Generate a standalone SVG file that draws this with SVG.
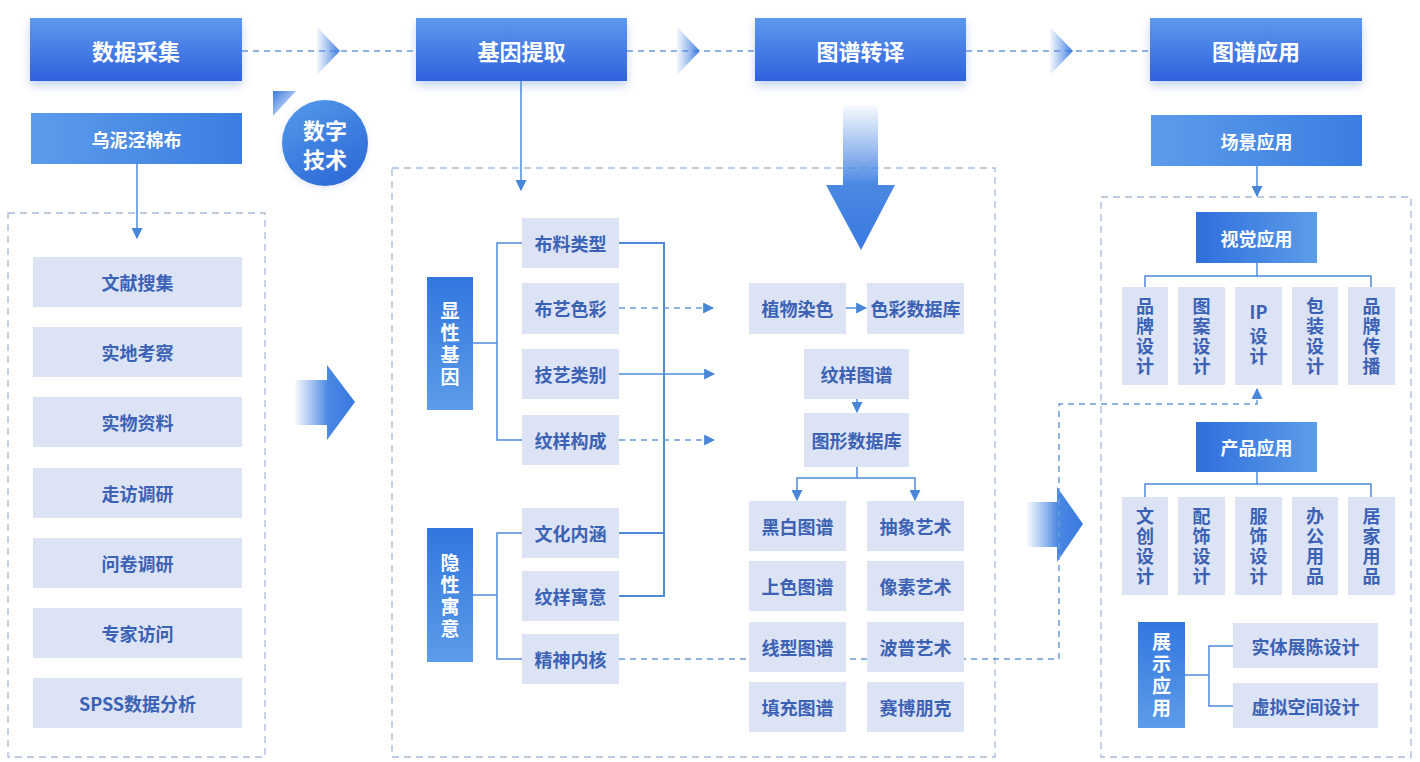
<svg xmlns="http://www.w3.org/2000/svg" width="1420" height="762" viewBox="0 0 1420 762">
<defs>
  <linearGradient id="gHead" x1="0" y1="0" x2="0" y2="1">
    <stop offset="0" stop-color="#5e98ec"/>
    <stop offset="1" stop-color="#2f62df"/>
  </linearGradient>
  <linearGradient id="gSub" x1="0" y1="0" x2="1" y2="0">
    <stop offset="0" stop-color="#5c9beb"/>
    <stop offset="1" stop-color="#3b7ee1"/>
  </linearGradient>
  <linearGradient id="gApp" x1="0" y1="0" x2="1" y2="0">
    <stop offset="0" stop-color="#2f6edc"/>
    <stop offset="1" stop-color="#5c9de9"/>
  </linearGradient>
  <linearGradient id="gVert" x1="0" y1="0" x2="0" y2="1">
    <stop offset="0" stop-color="#3277df"/>
    <stop offset="1" stop-color="#5c9ce9"/>
  </linearGradient>
  <linearGradient id="gTri" x1="0" y1="0" x2="1" y2="0">
    <stop offset="0" stop-color="#5b93e6" stop-opacity="0.08"/>
    <stop offset="1" stop-color="#3a7ae0"/>
  </linearGradient>
  <linearGradient id="gBig" x1="0" y1="0" x2="1" y2="0">
    <stop offset="0" stop-color="#5b93e6" stop-opacity="0.05"/>
    <stop offset="0.55" stop-color="#4a88e3"/>
    <stop offset="1" stop-color="#3a7ae0"/>
  </linearGradient>
  <linearGradient id="gDown" x1="0" y1="0" x2="0" y2="1">
    <stop offset="0" stop-color="#5b93e6" stop-opacity="0.05"/>
    <stop offset="0.55" stop-color="#4a88e3"/>
    <stop offset="1" stop-color="#3a7ae0"/>
  </linearGradient>
  <linearGradient id="gCorner" x1="0" y1="0" x2="1" y2="1">
    <stop offset="0" stop-color="#3a7ae0"/>
    <stop offset="1" stop-color="#5b93e6" stop-opacity="0.1"/>
  </linearGradient>
  <linearGradient id="gCircle" x1="0.2" y1="0" x2="0.8" y2="1">
    <stop offset="0" stop-color="#5197ea"/>
    <stop offset="1" stop-color="#2c68d6"/>
  </linearGradient>
  <filter id="shadow" x="-20%" y="-30%" width="140%" height="180%">
    <feDropShadow dx="0" dy="5" stdDeviation="5" flood-color="#5f86d6" flood-opacity="0.35"/>
  </filter>
  <filter id="soft" x="-20%" y="-20%" width="140%" height="140%">
    <feDropShadow dx="0" dy="2" stdDeviation="3" flood-color="#7f9fd8" flood-opacity="0.25"/>
  </filter>
  <marker id="ah" viewBox="0 0 10 10" refX="9" refY="5" markerWidth="11" markerHeight="11" markerUnits="userSpaceOnUse" orient="auto">
    <path d="M0,0 L10,5 L0,10 z" fill="#4a86d8"/>
  </marker>
  <style>
    text { font-family: "Noto Sans CJK SC", "Noto Sans", sans-serif; font-weight: bold; text-anchor: middle; dominant-baseline: central; }
    .hd rect { fill: url(#gHead); filter: url(#shadow); }
    .hd text { fill: #ffffff; font-size: 22px; }
    .sub rect { fill: url(#gSub); }
    .wt { fill: #ffffff; font-size: 18px; }
    .vw { fill: #ffffff; font-size: 19px; writing-mode: vertical-rl; letter-spacing: 3px; }
    .lb rect { fill: #dce3f4; }
    .lb text { fill: #3b62b4; font-size: 18px; }
    .lb text.vt { writing-mode: vertical-rl; letter-spacing: 2px; }
    .vb rect { fill: url(#gVert); }
    .app rect { fill: url(#gApp); }
    .box { fill: none; stroke: #a8bbd9; stroke-width: 1.3; stroke-dasharray: 7 5; }
    .ln { fill: none; stroke: #4f8ad8; stroke-width: 1.5; }
    .lnb { fill: none; stroke: #4f8ad8; stroke-width: 2; }
    .dl { fill: none; stroke: #6b9ad8; stroke-width: 1.5; stroke-dasharray: 6 5; }
  </style>
</defs>
<rect x="0" y="0" width="1420" height="762" fill="#ffffff"/>

<!-- dashed containers -->
<g id="containers">
  <rect class="box" x="8" y="213" width="257" height="544"/>
  <rect class="box" x="392" y="168" width="603" height="589"/>
  <rect class="box" x="1101" y="197" width="310" height="560"/>
</g>

<!-- connectors -->
<g id="connectors">
  <path class="dl" d="M242,51 H416"/>
  <path class="dl" d="M627,51 H755"/>
  <path class="dl" d="M966,51 H1150"/>
  <path d="M317,27 L340,51 L317,75 Z" fill="url(#gTri)"/>
  <path d="M677,27 L700,51 L677,75 Z" fill="url(#gTri)"/>
  <path d="M1050,27 L1073,51 L1050,75 Z" fill="url(#gTri)"/>

  <path class="ln" d="M137,164 V238" marker-end="url(#ah)"/>
  <path class="ln" d="M521,81 V190" marker-end="url(#ah)"/>
  <path class="ln" d="M1257,166 V196" marker-end="url(#ah)"/>

  <path d="M295,380 H327 V365 L355,402 L327,440 V425 H295 Z" fill="url(#gBig)"/>
  <path d="M1027,502 H1057 V487 L1083,524 L1057,562 V547 H1027 Z" fill="url(#gBig)"/>
  <path d="M843,105 H878 V185 H895 L861,250 L826,185 H843 Z" fill="url(#gDown)"/>

  <path class="ln" d="M473,343 H497"/>
  <path class="ln" d="M522,243 H497 V440 H522"/>
  <path class="ln" d="M473,595 H497"/>
  <path class="ln" d="M522,533 H497 V659 H522"/>
  <path class="lnb" d="M619,243 H664 V596 H619"/>
  <path class="lnb" d="M619,533 H664"/>

  <path class="dl" d="M619,308 H713" marker-end="url(#ah)"/>
  <path class="ln" d="M619,374 H714" marker-end="url(#ah)"/>
  <path class="dl" d="M619,440 H714" marker-end="url(#ah)"/>

  <path class="ln" d="M846,308 H866" marker-end="url(#ah)"/>
  <path class="ln" d="M857,399 V412" marker-end="url(#ah)"/>
  <path class="ln" d="M857,467 V478"/>
  <path class="ln" d="M857,478 H797 V500" marker-end="url(#ah)"/>
  <path class="ln" d="M857,478 H915 V500" marker-end="url(#ah)"/>

  <path class="dl" d="M619,659 H1059 V404 H1257 V389" marker-end="url(#ah)"/>

  <path class="ln" d="M1257,263 V276"/>
  <path class="ln" d="M1145,287 V276 H1371 V287"/>
  <path class="ln" d="M1257,472 V484"/>
  <path class="ln" d="M1145,497 V484 H1371 V497"/>
  <path class="ln" d="M1185,675 H1209"/>
  <path class="ln" d="M1233,646 H1209 V706 H1233"/>
</g>

<!-- header nodes -->
<g id="n-shuju" class="hd"><rect x="30" y="18" width="212" height="63"/><text x="136" y="50">数据采集</text></g>
<g id="n-jiyin" class="hd"><rect x="416" y="18" width="211" height="63"/><text x="521.5" y="50">基因提取</text></g>
<g id="n-zhuanyi" class="hd"><rect x="755" y="18" width="211" height="63"/><text x="860.5" y="50">图谱转译</text></g>
<g id="n-yingyong" class="hd"><rect x="1150" y="18" width="212" height="63"/><text x="1256" y="50">图谱应用</text></g>

<g id="n-shuzi">
  <path d="M273,91 H296 L273,116 Z" fill="url(#gCorner)"/>
  <circle cx="325" cy="143" r="43" fill="url(#gCircle)" filter="url(#soft)"/>
  <text x="325" y="129" fill="#ffffff" font-size="22"><tspan x="325" y="129">数字</tspan><tspan x="325" y="158">技术</tspan></text>
</g>

<!-- left column -->
<g id="n-wuni" class="sub"><rect x="31" y="113" width="211" height="51"/><text class="wt" x="136.5" y="139">乌泥泾棉布</text></g>
<g id="n-l1" class="lb"><rect x="33" y="257" width="209" height="50"/><text x="137.5" y="282">文献搜集</text></g>
<g id="n-l2" class="lb"><rect x="33" y="327" width="209" height="50"/><text x="137.5" y="352">实地考察</text></g>
<g id="n-l3" class="lb"><rect x="33" y="397" width="209" height="50"/><text x="137.5" y="422">实物资料</text></g>
<g id="n-l4" class="lb"><rect x="33" y="468" width="209" height="50"/><text x="137.5" y="493">走访调研</text></g>
<g id="n-l5" class="lb"><rect x="33" y="538" width="209" height="50"/><text x="137.5" y="563">问卷调研</text></g>
<g id="n-l6" class="lb"><rect x="33" y="608" width="209" height="50"/><text x="137.5" y="633">专家访问</text></g>
<g id="n-l7" class="lb"><rect x="33" y="678" width="209" height="50"/><text x="137.5" y="703">SPSS数据分析</text></g>

<!-- gene extraction -->
<g id="n-xianxing" class="vb"><rect x="427" y="277" width="46" height="133"/>
  <text class="vw" x="450" y="345">显性基因</text></g>
<g id="n-yinxing" class="vb"><rect x="427" y="528" width="46" height="134"/>
  <text class="vw" x="450" y="597">隐性寓意</text></g>
<g id="n-m1" class="lb"><rect x="522" y="218" width="97" height="50"/><text x="570.5" y="243">布料类型</text></g>
<g id="n-m2" class="lb"><rect x="522" y="283" width="97" height="51"/><text x="570.5" y="308">布艺色彩</text></g>
<g id="n-m3" class="lb"><rect x="522" y="349" width="97" height="50"/><text x="570.5" y="374">技艺类别</text></g>
<g id="n-m4" class="lb"><rect x="522" y="415" width="97" height="50"/><text x="570.5" y="440">纹样构成</text></g>
<g id="n-m5" class="lb"><rect x="522" y="508" width="97" height="50"/><text x="570.5" y="533">文化内涵</text></g>
<g id="n-m6" class="lb"><rect x="522" y="571" width="97" height="50"/><text x="570.5" y="596">纹样寓意</text></g>
<g id="n-m7" class="lb"><rect x="522" y="634" width="97" height="50"/><text x="570.5" y="659">精神内核</text></g>

<!-- translation -->
<g id="n-zhiwu" class="lb"><rect x="749" y="283" width="97" height="51"/><text x="797.5" y="308">植物染色</text></g>
<g id="n-secai" class="lb"><rect x="867" y="283" width="97" height="51"/><text x="915.5" y="308">色彩数据库</text></g>
<g id="n-wenyang" class="lb"><rect x="804" y="349" width="105" height="50"/><text x="856.5" y="374">纹样图谱</text></g>
<g id="n-tuxing" class="lb"><rect x="804" y="413" width="105" height="54"/><text x="856.5" y="440">图形数据库</text></g>
<g id="n-g1" class="lb"><rect x="749" y="501" width="97" height="50"/><text x="797.5" y="526">黑白图谱</text></g>
<g id="n-g2" class="lb"><rect x="749" y="561" width="97" height="50"/><text x="797.5" y="586">上色图谱</text></g>
<g id="n-g3" class="lb"><rect x="749" y="622" width="97" height="50"/><text x="797.5" y="647">线型图谱</text></g>
<g id="n-g4" class="lb"><rect x="749" y="682" width="97" height="50"/><text x="797.5" y="707">填充图谱</text></g>
<g id="n-g5" class="lb"><rect x="867" y="501" width="97" height="50"/><text x="915.5" y="526">抽象艺术</text></g>
<g id="n-g6" class="lb"><rect x="867" y="561" width="97" height="50"/><text x="915.5" y="586">像素艺术</text></g>
<g id="n-g7" class="lb"><rect x="867" y="622" width="97" height="50"/><text x="915.5" y="647">波普艺术</text></g>
<g id="n-g8" class="lb"><rect x="867" y="682" width="97" height="50"/><text x="915.5" y="707">赛博朋克</text></g>

<!-- application -->
<g id="n-changjing" class="sub"><rect x="1151" y="115" width="211" height="51"/><text class="wt" x="1256.5" y="141">场景应用</text></g>
<g id="n-shijue" class="app"><rect x="1196" y="212" width="121" height="51"/><text class="wt" x="1256.5" y="238">视觉应用</text></g>
<g id="n-v1" class="lb"><rect x="1122" y="287" width="46" height="98"/><text class="vt" x="1145" y="337">品牌设计</text></g>
<g id="n-v2" class="lb"><rect x="1178" y="287" width="47" height="98"/><text class="vt" x="1201.5" y="337">图案设计</text></g>
<g id="n-v3" class="lb"><rect x="1235" y="287" width="47" height="98"/><text x="1258.5" y="311">IP</text><text class="vt" x="1258.5" y="347">设计</text></g>
<g id="n-v4" class="lb"><rect x="1292" y="287" width="46" height="98"/><text class="vt" x="1315" y="337">包装设计</text></g>
<g id="n-v5" class="lb"><rect x="1348" y="287" width="47" height="98"/><text class="vt" x="1371.5" y="337">品牌传播</text></g>

<g id="n-chanpin" class="app"><rect x="1196" y="422" width="121" height="50"/><text class="wt" x="1256.5" y="447">产品应用</text></g>
<g id="n-p1" class="lb"><rect x="1122" y="497" width="46" height="98"/><text class="vt" x="1145" y="547">文创设计</text></g>
<g id="n-p2" class="lb"><rect x="1178" y="497" width="47" height="98"/><text class="vt" x="1201.5" y="547">配饰设计</text></g>
<g id="n-p3" class="lb"><rect x="1235" y="497" width="47" height="98"/><text class="vt" x="1258.5" y="547">服饰设计</text></g>
<g id="n-p4" class="lb"><rect x="1292" y="497" width="46" height="98"/><text class="vt" x="1315" y="547">办公用品</text></g>
<g id="n-p5" class="lb"><rect x="1348" y="497" width="47" height="98"/><text class="vt" x="1371.5" y="547">居家用品</text></g>

<g id="n-zhanshi" class="vb"><rect x="1138" y="622" width="47" height="106"/>
  <text class="vw" x="1161.5" y="676">展示应用</text></g>
<g id="n-s1" class="lb"><rect x="1233" y="623" width="145" height="45"/><text x="1305.5" y="646">实体展陈设计</text></g>
<g id="n-s2" class="lb"><rect x="1233" y="683" width="145" height="45"/><text x="1305.5" y="706">虚拟空间设计</text></g>
</svg>
